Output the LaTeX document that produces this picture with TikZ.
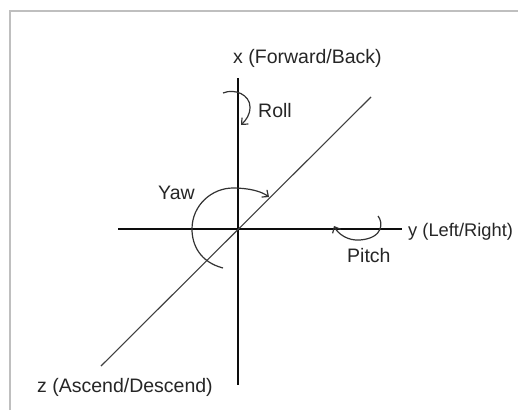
\documentclass[tikz,border=0pt]{standalone}
\usepackage{fontspec}
\setmainfont{Liberation Sans}
\usetikzlibrary{arrows.meta}
\begin{document}
\begin{tikzpicture}[x=1pt,y=-1pt,
  lbl/.style={anchor=base west,inner sep=0pt,text=black!85,font=\fontsize{19.5}{23}\selectfont},
  axis/.style={line width=1.5pt,black!95},
  diag/.style={line width=1.1pt,black!75},
  rot/.style={line width=1.2pt,black!80,-{Straight Barb[length=5pt,width=9pt]}}]
\useasboundingbox[fill=white] (0,0) rectangle (518,410);
\draw[black!25,line width=2pt] (10,410) -- (10,11) -- (518,11);
% axes
\coordinate (xt) at (238,78);
\coordinate (xb) at (238,385);
\coordinate (yl) at (118,229);
\coordinate (yr) at (402,229);
\coordinate (zt) at (371,97);
\coordinate (zb) at (101,366);
\draw[axis] (xt) -- (xb);
\draw[axis] (yl) -- (yr);
\draw[diag] (zt) -- (zb);
% labels
\node[lbl] (xlab) at (233,63) {x (Forward/Back)};
\node[lbl,font=\fontsize{18.3}{22}\selectfont] (ylab) at (408,236) {y (Left/Right)};
\node[lbl] (zlab) at (37,392) {z (Ascend/Descend)};
\node[lbl] (roll) at (258,117) {Roll};
\node[lbl] (yaw) at (158,199) {Yaw};
\node[lbl] (pitch) at (347,262) {Pitch};
% rotation arrows
\draw[rot] (223,93) .. controls (235,88) and (250,95) .. (250,107)
  .. controls (250,115) and (246,120) .. (241,125);
\draw[rot] (223,268) .. controls (200,262) and (192,245) .. (192,229)
  .. controls (192,205) and (212,188) .. (233,188)
  .. controls (248,188) and (261,191) .. (269,197);
\draw[rot] (378,216) .. controls (383,222) and (384,238) .. (360,240)
  .. controls (348,241) and (338,234) .. (334,226);
\end{tikzpicture}
\end{document}
